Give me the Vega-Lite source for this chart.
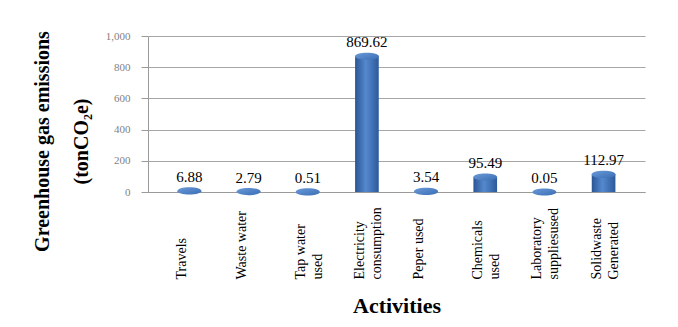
{
  "$schema": "https://vega.github.io/schema/vega-lite/v6.json",
  "width": 497,
  "height": 156,
  "autosize": "none",
  "padding": {"left": 148, "top": 36, "right": 33, "bottom": 135},
  "background": "white",
  "config": {
    "view": {"stroke": null},
    "font": "Liberation Serif"
  },
  "data": {
    "values": [
      {"activity": "Travels", "emissions": 6.88},
      {"activity": "Waste water", "emissions": 2.79},
      {"activity": "Tap water\nused", "emissions": 0.51},
      {"activity": "Electricity\nconsumption", "emissions": 869.62},
      {"activity": "Peper  used", "emissions": 3.54},
      {"activity": "Chemicals\nused", "emissions": 95.49},
      {"activity": "Laboratory\nsuppliesused", "emissions": 0.05},
      {"activity": "Solidwaste\nGenerated", "emissions": 112.97}
    ]
  },
  "encoding": {
    "x": {
      "field": "activity",
      "type": "nominal",
      "sort": null,
      "scale": {"paddingInner": 0.6, "paddingOuter": 0.5},
      "axis": {
        "title": "Activities",
        "titleFont": "Liberation Serif",
        "titleFontSize": 22,
        "titleFontWeight": "bold",
        "titleColor": "#000000",
        "titleBaseline": "middle",
        "titleY": 113,
        "domainColor": "#9a9a9a",
        "ticks": false,
        "labelAngle": -90,
        "labelAlign": "left",
        "labelBaseline": "middle",
        "labelPadding": 87,
        "labelOffset": -7,
        "labelFont": "Liberation Serif",
        "labelFontSize": 14,
        "labelLineHeight": 17,
        "labelColor": "#000000",
        "labelLimit": 0,
        "labelExpr": "split(datum.label, '\\n')"
      }
    },
    "y": {
      "field": "emissions",
      "type": "quantitative",
      "scale": {"domain": [0, 1000], "nice": false},
      "axis": {
        "title": ["Greenhouse gas emissions", "(tonCO₂e)"],
        "titleFont": "Liberation Serif",
        "titleFontSize": 20,
        "titleFontWeight": "bold",
        "titleColor": "#000000",
        "titleAngle": -90,
        "titleAlign": "center",
        "titleBaseline": "top",
        "titleLineHeight": 39,
        "titleX": -116,
        "titleY": 105,
        "values": [0, 200, 400, 600, 800, 1000],
        "format": ",.0f",
        "labelOverlap": false,
        "labelFont": "Liberation Serif",
        "labelFontSize": 11,
        "labelColor": "#7f7f7f",
        "labelPadding": 11,
        "tickSize": 7,
        "tickColor": "#9a9a9a",
        "domainColor": "#9a9a9a",
        "grid": true,
        "gridColor": "#a6a6a6"
      }
    }
  },
  "layer": [
    {
      "mark": {
        "type": "bar",
        "color": {
          "gradient": "linear", "x1": 0, "x2": 1, "y1": 0, "y2": 0,
          "stops": [
            {"offset": 0, "color": "#2a5594"},
            {"offset": 0.45, "color": "#5589cf"},
            {"offset": 1, "color": "#2c5a9a"}
          ]
        }
      }
    },
    {
      "mark": {
        "type": "point",
        "shape": "M -1 0 A 1 0.3 0 1 0 1 0 A 1 0.3 0 1 0 -1 0 Z",
        "size": 576,
        "filled": true,
        "opacity": 1,
        "color": {
          "gradient": "linear", "x1": 0, "x2": 1, "y1": 0, "y2": 1,
          "stops": [
            {"offset": 0, "color": "#6a9ad8"},
            {"offset": 1, "color": "#3a6db5"}
          ]
        }
      }
    },
    {
      "mark": {
        "type": "text",
        "font": "Liberation Serif",
        "fontSize": 15,
        "color": "#000000",
        "baseline": "alphabetic",
        "dy": -9
      },
      "encoding": {
        "text": {"field": "emissions", "type": "quantitative", "format": ".2f"}
      }
    }
  ]
}
